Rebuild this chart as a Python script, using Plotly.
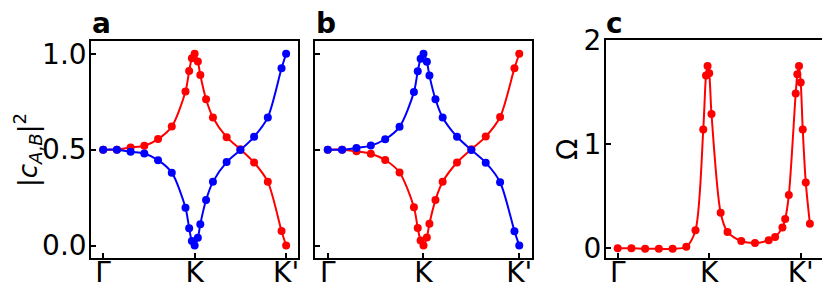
import plotly.graph_objects as go

# ---------------- data ----------------
# panel a / b : |c_A,B|^2 along Γ-K-K'
k_ab = [0, 0.15, 0.3, 0.45, 0.6, 0.75, 0.9, 0.94, 0.97, 1.0, 1.035, 1.062,
        1.125, 1.2, 1.35, 1.5, 1.65, 1.8, 1.95, 2.0]
a_red = [0.5, 0.5, 0.511, 0.52, 0.555, 0.62, 0.803, 0.91, 0.977, 1.0, 0.96, 0.889,
         0.763, 0.668, 0.565, 0.502, 0.433, 0.332, 0.076, 0.0]
a_blue = [0.5, 0.5, 0.489, 0.48, 0.445, 0.38, 0.197, 0.09, 0.023, 0.0, 0.04, 0.111,
          0.237, 0.332, 0.435, 0.498, 0.567, 0.668, 0.924, 1.0]
b_blue = [0.5, 0.5, 0.509, 0.521, 0.554, 0.619, 0.8, 0.909, 0.974, 1.0, 0.958, 0.886,
          0.763, 0.668, 0.567, 0.498, 0.432, 0.33, 0.075, 0.0]
b_red = [0.5, 0.5, 0.491, 0.479, 0.446, 0.381, 0.2, 0.091, 0.026, 0.0, 0.042, 0.114,
         0.237, 0.332, 0.433, 0.502, 0.568, 0.67, 0.925, 1.0]

# panel c : Berry curvature Ω
k_c = [0, 0.15, 0.3, 0.45, 0.6, 0.75, 0.85, 0.935, 0.965, 0.982, 1.0, 1.025,
       1.125, 1.2, 1.35, 1.5, 1.65, 1.72, 1.8, 1.83, 1.87, 1.945, 1.963, 1.981,
       2.0, 2.022, 2.055, 2.1]
omega = [0, 0, -0.005, -0.005, -0.005, 0.015, 0.173, 1.14, 1.66, 1.75, 1.68, 1.29,
         0.341, 0.156, 0.07, 0.051, 0.077, 0.108, 0.201, 0.281, 0.511, 1.486, 1.671,
         1.751, 1.592, 1.141, 0.633, 0.236]

k_ticks = [0, 1, 2]
k_labels = ["Γ", "K", "K'"]
ab_ticks = [0.0, 0.5, 1.0]
ab_labels = ["0.0", "0.5", "1.0"]
c_ticks = [0, 1, 2]
c_labels = ["0", "1", "2"]

RED = "#ff0000"
BLUE = "#0000ff"
OFF = 8                      # page body margin of the browser
W, H = 830 - OFF, 291 - OFF  # figure size so that it fills the window
FONT = "DejaVu Sans"
FS = 28

def px_x(p):
    return (p - OFF) / W

def px_y(p):
    return 1 - (p - OFF) / H

fig = go.Figure()

def add_series(x, y, color, xa, ya):
    fig.add_trace(go.Scatter(
        x=x, y=y, mode="lines+markers", xaxis=xa, yaxis=ya,
        line=dict(color=color, width=2, shape="spline", smoothing=0.8),
        marker=dict(color=color, size=8), showlegend=False,
        hoverinfo="skip"))

add_series(k_ab, a_red, RED, "x", "y")
add_series(k_ab, a_blue, BLUE, "x", "y")
add_series(k_ab, b_red, RED, "x2", "y2")
add_series(k_ab, b_blue, BLUE, "x2", "y2")
add_series(k_c, omega, RED, "x3", "y3")

top, bottom = 40.7, 258.0
ydom = [px_y(bottom), px_y(top)]

common = dict(showline=True, linecolor="black", linewidth=1.6, mirror=True,
              ticks="inside", ticklen=5, tickwidth=1.5, tickcolor="black",
              showgrid=False, zeroline=False, automargin=False,
              tickfont=dict(family=FONT, size=FS, color="black"))
xcommon = dict(common, ticklabelstandoff=-11)
ycommon = dict(common, ticklabelstandoff=-3)

fig.update_layout(
    template="none",
    width=W, height=H,
    margin=dict(l=0, r=0, t=0, b=0, pad=0, autoexpand=False),
    paper_bgcolor="white", plot_bgcolor="white",
    xaxis=dict(domain=[px_x(91), px_x(298)], range=[-0.133, 2.13],
               tickvals=k_ticks, ticktext=k_labels, anchor="y", **xcommon),
    yaxis=dict(domain=ydom, range=[-0.065, 1.068], tickvals=ab_ticks,
               ticktext=ab_labels, anchor="x", **ycommon),
    xaxis2=dict(domain=[px_x(315), px_x(531.7)], range=[-0.133, 2.13],
                tickvals=k_ticks, ticktext=k_labels, anchor="y2", **xcommon),
    yaxis2=dict(domain=ydom, range=[-0.065, 1.068], tickvals=ab_ticks,
                showticklabels=False, anchor="x2", **ycommon),
    xaxis3=dict(domain=[px_x(605.7), px_x(822.7)], range=[-0.131, 2.24],
                tickvals=k_ticks, ticktext=k_labels, anchor="y3", **xcommon),
    yaxis3=dict(domain=[px_y(bottom), px_y(40)], range=[-0.093, 2.0],
                tickvals=c_ticks, ticktext=c_labels, anchor="x3", **ycommon),
)

# panel letters
for letter, xp in [("a", 90), ("b", 314), ("c", 604)]:
    fig.add_annotation(text="<b>%s</b>" % letter, xref="paper", yref="paper",
                       x=px_x(xp), y=px_y(42), xanchor="left", yanchor="bottom",
                       showarrow=False, font=dict(family=FONT, size=FS, color="black"))

# y-axis titles (rotated)
fig.add_annotation(text="|<i>c</i><sub><i>A</i>,<i>B</i></sub>|<sup>2</sup>",
                   xref="paper", yref="paper", x=px_x(27), y=px_y(150),
                   xanchor="center", yanchor="middle", textangle=-90,
                   showarrow=False, font=dict(family=FONT, size=26, color="black"))
fig.add_annotation(text="Ω", xref="paper", yref="paper", x=px_x(567), y=px_y(150),
                   xanchor="center", yanchor="middle", textangle=-90,
                   showarrow=False, font=dict(family=FONT, size=FS, color="black"))

fig.write_html("out.html")
